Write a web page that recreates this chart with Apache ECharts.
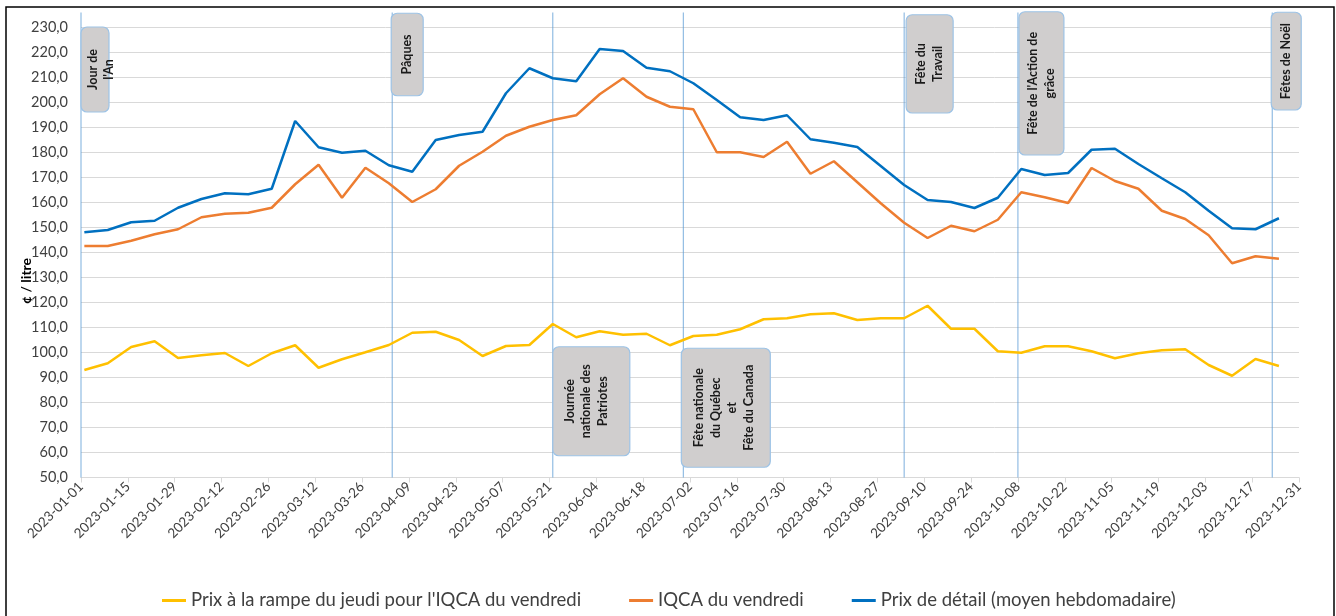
<!DOCTYPE html>
<html><head><meta charset="utf-8">
<script src="https://cdn.jsdelivr.net/npm/echarts@6/dist/echarts.min.js"></script>
<style>html,body{margin:0;padding:0;background:#fff}#c{width:1336px;height:616px}</style>
</head><body><div id="c"></div>
<script>
// ---- data ----
const weekDates = ['2023-01-02','2023-01-09','2023-01-16','2023-01-23','2023-01-30','2023-02-06','2023-02-13','2023-02-20','2023-02-27',
'2023-03-06','2023-03-13','2023-03-20','2023-03-27','2023-04-03','2023-04-10','2023-04-17','2023-04-24','2023-05-01','2023-05-08',
'2023-05-15','2023-05-22','2023-05-29','2023-06-05','2023-06-12','2023-06-19','2023-06-26','2023-07-03','2023-07-10','2023-07-17',
'2023-07-24','2023-07-31','2023-08-07','2023-08-14','2023-08-21','2023-08-28','2023-09-04','2023-09-11','2023-09-18','2023-09-25',
'2023-10-02','2023-10-09','2023-10-16','2023-10-23','2023-10-30','2023-11-06','2023-11-13','2023-11-20','2023-11-27','2023-12-04',
'2023-12-11','2023-12-18','2023-12-25'];
const rampePrice = [93.0,95.7,102.2,104.5,97.8,98.9,99.8,94.6,99.7,102.9,93.9,97.3,100.1,103.0,107.9,108.3,105.0,98.6,102.6,103.0,
111.4,106.1,108.5,107.1,107.5,102.9,106.6,107.1,109.3,113.3,113.7,115.3,115.7,113.0,113.7,113.7,118.7,109.5,109.5,100.5,
99.9,102.5,102.5,100.5,97.7,99.7,100.9,101.3,95.0,90.7,97.4,94.6];
const iqcaFriday = [142.6,142.6,144.7,147.3,149.3,154.1,155.5,155.9,157.9,167.3,175.1,161.9,173.9,167.7,160.2,165.3,
174.7,180.3,186.7,190.3,193.0,194.9,203.3,209.7,202.3,198.3,197.3,180.1,180.1,178.2,184.3,171.5,
176.5,168.1,159.7,151.9,145.8,150.7,148.5,153.1,164.1,162.1,159.8,173.8,168.6,165.5,156.7,153.4,146.9,135.7,138.5,137.5];
const retailPrice = [148.1,149.0,152.1,152.7,157.9,161.4,163.7,163.3,165.5,192.6,182.1,179.9,180.7,174.9,172.3,185.0,
187.0,188.3,203.7,213.7,209.7,208.5,221.4,220.6,213.9,212.5,207.7,201.0,194.1,193.0,194.9,185.3,
183.9,182.2,174.6,167.0,161.0,160.2,157.8,161.9,173.4,171.0,171.8,181.1,181.5,175.4,169.7,164.1,156.7,149.7,149.3,153.7];
const seriesNames = ["Prix à la rampe du jeudi pour l'IQCA du vendredi", "IQCA du vendredi", "Prix de détail (moyen hebdomadaire)"];
const holidayDates = ['2023-01-01','2023-04-04','2023-05-22','2023-06-30','2023-09-04','2023-10-08','2023-12-23'];
const holidayLabels = ["Jour de\nl'An", "Pâques", "Journée\nnationale des\nPatriotes", "Fête nationale\ndu Québec\net\nFête du Canada",
  "Fête du\nTravail", "Fête de l'Action de\ngrâce", "Fêtes de Noël"];
const axisStart = '2023-01-01';

// ---- layout (pixels / axis units for annotation boxes) ----
const boxLayout = [
  {dx:0,  w:28, top:230.2, bottom:196.2, tdx:6},
  {dx:-1, w:32, top:235.7, bottom:202.7, tdx:0},
  {dx:0,  w:77, top:102.3, bottom:58.7,  tdx:-5},
  {dx:-2, w:89, top:101.7, bottom:54.1,  tdx:-2},
  {dx:2,  w:47, top:235.1, bottom:195.8, tdx:0},
  {dx:1,  w:45, top:236.3, bottom:179.0, tdx:0},
  {dx:-1, w:30, top:236.1, bottom:197.0, tdx:0}
];

const DAY = 86400000;
const t0 = Date.parse(axisStart + 'T00:00:00Z');
const dayOf = s => Math.round((Date.parse(s + 'T00:00:00Z') - t0) / DAY);
const xs = weekDates.map(dayOf);
const pair = arr => arr.map((v, i) => [xs[i], v]);
const fmtDay = v => new Date(t0 + v * DAY).toISOString().slice(0, 10);
const FONT = 'Lato, "Open Sans", sans-serif';
const TXT = '#404040';

const chart = echarts.init(document.getElementById('c'), null, {renderer: 'canvas'});
chart.setOption({
  animation: false,
  backgroundColor: '#fff',
  grid: {left: 81, right: 37, top: 27.5, bottom: 138.5},
  xAxis: {
    type: 'value', min: 0, max: 364, interval: 14,
    axisLine: {show: true, lineStyle: {color: '#d9d9d9', width: 1}},
    axisTick: {show: true, length: 5, lineStyle: {color: '#d9d9d9'}},
    splitLine: {show: false},
    axisLabel: {rotate: 45, margin: 7, color: TXT, fontFamily: FONT, fontSize: 13.5,
      showMinLabel: true, showMaxLabel: true, formatter: fmtDay}
  },
  yAxis: {
    type: 'value', min: 50, max: 230, interval: 10,
    axisLine: {show: false}, axisTick: {show: false},
    splitLine: {lineStyle: {color: '#d9d9d9', width: 1}},
    axisLabel: {margin: 13, color: TXT, fontFamily: FONT, fontSize: 14.5,
      formatter: v => v.toFixed(1).replace('.', ',')}
  },
  legend: {
    data: seriesNames, left: 157, top: 586, itemWidth: 24, itemHeight: 3, icon: 'rect', itemGap: 48,
    textStyle: {fontFamily: FONT, fontSize: 18.5, color: TXT}
  },
  graphic: [
    {type: 'rect', silent: true, shape: {x: 6, y: 7, width: 1328, height: 640},
      style: {fill: null, stroke: '#000', lineWidth: 1.5}},
    {type: 'text', silent: true, x: 26, y: 281, rotation: Math.PI / 2,
      style: {text: '¢ / litre', align: 'center', verticalAlign: 'middle', font: 'bold 14px ' + FONT, fill: '#000'}}
  ],
  series: [
    {
      type: 'custom', name: 'fêtes', clip: false, z: 1,
      data: holidayDates.map((d, i) => [dayOf(d), i]),
      encode: {x: 0},
      renderItem: (params, api) => {
        const i = api.value(1);
        const b = boxLayout[i];
        const x = api.coord([api.value(0), 50])[0];
        const yBase = api.coord([0, 50])[1];
        const yLineTop = api.coord([0, 236])[1];
        const yTop = api.coord([0, b.top])[1];
        const yBot = api.coord([0, b.bottom])[1];
        return {type: 'group', children: [
          {type: 'line', shape: {x1: x, y1: yLineTop, x2: x, y2: yBase},
            style: {stroke: '#5B9BD5', lineWidth: 1, opacity: 0.8}},
          {type: 'rect', shape: {x: x + b.dx, y: yTop, width: b.w, height: yBot - yTop, r: 6},
            style: {fill: '#D0CECE', stroke: '#9DC3E6', lineWidth: 1.2}},
          {type: 'text', x: x + b.dx + b.w / 2 + b.tdx, y: (yTop + yBot) / 2, rotation: Math.PI / 2,
            style: {text: holidayLabels[i], align: 'center', verticalAlign: 'middle',
              font: 'bold 12.5px ' + FONT, fill: '#1a1a1a', lineHeight: 16.5}}
        ]};
      }
    },
    {name: seriesNames[0], type: 'line', data: pair(rampePrice), symbol: 'none', z: 3,
      lineStyle: {color: '#FFC000', width: 2.5}, itemStyle: {color: '#FFC000'}},
    {name: seriesNames[1], type: 'line', data: pair(iqcaFriday), symbol: 'none', z: 3,
      lineStyle: {color: '#ED7D31', width: 2.5}, itemStyle: {color: '#ED7D31'}},
    {name: seriesNames[2], type: 'line', data: pair(retailPrice), symbol: 'none', z: 3,
      lineStyle: {color: '#0070C0', width: 2.5}, itemStyle: {color: '#0070C0'}}
  ]
});
</script></body></html>
